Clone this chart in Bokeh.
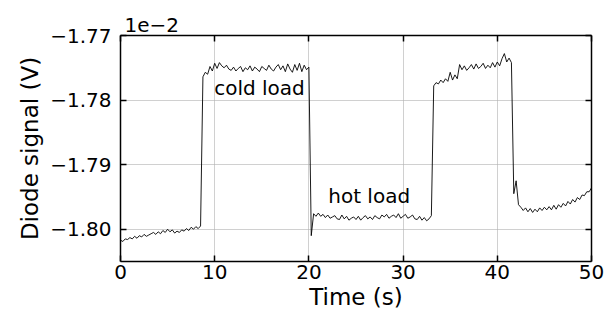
import numpy as np
from bokeh.plotting import figure
from bokeh.models import LinearAxis, FixedTicker, CustomJSTickFormatter, Range1d, Label
from bokeh.embed import file_html
from bokeh.resources import INLINE

# Diode signal in units of 1e-2 V, sampled every 0.25 s
seg_start = [-1.8017, -1.8019, -1.8015, -1.8016, -1.8013, -1.8015, -1.8011, -1.8014, -1.8010, -1.8012,
             -1.8008, -1.8011, -1.8009, -1.8007, -1.8005, -1.8008, -1.8004, -1.8007, -1.8002, -1.8005,
             -1.8000, -1.8004, -1.8001, -1.8006, -1.8003, -1.8005, -1.8001, -1.8003, -1.7999, -1.8002,
             -1.7997, -1.8000, -1.7996, -1.7999, -1.7995]
seg_cold = [-1.7764, -1.7757, -1.7760, -1.7748, -1.7755, -1.7743, -1.7751, -1.7742, -1.7747, -1.7750,
            -1.7746, -1.7752, -1.7754, -1.7749, -1.7755, -1.7751, -1.7748, -1.7756, -1.7750, -1.7753,
            -1.7747, -1.7755, -1.7749, -1.7752, -1.7756, -1.7748, -1.7751, -1.7754, -1.7746, -1.7752,
            -1.7755, -1.7749, -1.7745, -1.7753, -1.7747, -1.7756, -1.7744, -1.7752, -1.7757, -1.7745,
            -1.7754, -1.7743, -1.7756, -1.7746, -1.7753, -1.7749]
seg_hot = [-1.8010, -1.7976, -1.7980, -1.7975, -1.7980, -1.7977, -1.7982, -1.7978, -1.7983, -1.7981,
           -1.7979, -1.7984, -1.7985, -1.7978, -1.7984, -1.7980, -1.7986, -1.7983, -1.7981, -1.7985,
           -1.7980, -1.7986, -1.7982, -1.7979, -1.7984, -1.7981, -1.7985, -1.7979, -1.7982, -1.7984,
           -1.7978, -1.7981, -1.7977, -1.7983, -1.7980, -1.7978, -1.7982, -1.7976, -1.7983, -1.7980,
           -1.7977, -1.7983, -1.7981, -1.7978, -1.7984, -1.7985, -1.7980, -1.7986, -1.7982, -1.7987,
           -1.7984, -1.7979]
seg_cold2 = [-1.7778, -1.7773, -1.7775, -1.7769, -1.7773, -1.7767, -1.7771, -1.7757, -1.7769, -1.7761,
             -1.7767, -1.7745, -1.7753, -1.7747, -1.7754, -1.7750, -1.7745, -1.7752, -1.7744, -1.7751,
             -1.7748, -1.7743, -1.7751, -1.7746, -1.7750, -1.7742, -1.7749, -1.7741, -1.7747, -1.7736,
             -1.7728, -1.7741, -1.7735, -1.7742]
seg_hot2 = [-1.7945, -1.7925, -1.7962, -1.7966, -1.7971, -1.7967, -1.7973, -1.7968, -1.7974, -1.7969,
            -1.7973, -1.7967, -1.7971, -1.7966, -1.7970, -1.7965, -1.7970, -1.7963, -1.7969, -1.7962,
            -1.7966, -1.7960, -1.7964, -1.7957, -1.7961, -1.7954, -1.7958, -1.7951, -1.7954, -1.7947,
            -1.7948, -1.7942, -1.7942, -1.7936]
signal = seg_start + seg_cold + seg_hot + seg_cold2 + seg_hot2
sample_step = 0.25
time_s = [i * sample_step for i in range(len(signal))]

x_ticks = [0, 10, 20, 30, 40, 50]
y_ticks = [-1.80, -1.79, -1.78, -1.77]
annotations = [("cold load", 14.75, -1.7782), ("hot load", 26.4, -1.7948)]
offset_text = "1e\u22122"

FONT = "DejaVu Sans"

p = figure(frame_width=471, frame_height=226, output_backend="svg", toolbar_location=None,
           x_range=Range1d(0, 50), y_range=Range1d(-1.805, -1.77),
           min_border_left=120, min_border_right=13, min_border_top=35, min_border_bottom=61,
           x_axis_label="Time (s)", y_axis_label="Diode signal (V)")
p.outline_line_color = None
p.background_fill_color = "white"
p.border_fill_color = "white"

bottom = p.below[0]
left = p.left[0]

p.line(time_s, signal, line_color="black", line_width=0.9)

for txt, tx, ty in annotations:
    p.add_layout(Label(x=tx, y=ty, text=txt, text_align="center", text_baseline="middle",
                       text_font=FONT, text_font_size="20px", text_color="black"))

yfmt = CustomJSTickFormatter(code="return (tick < 0 ? '\\u2212' : '') + Math.abs(tick).toFixed(2);")
xfmt = CustomJSTickFormatter(code="return Math.round(tick).toString();")
blank = CustomJSTickFormatter(code="return '';")

bottom.ticker = FixedTicker(ticks=x_ticks)
bottom.formatter = xfmt
left.ticker = FixedTicker(ticks=y_ticks)
left.formatter = yfmt

top = LinearAxis(ticker=FixedTicker(ticks=x_ticks), formatter=blank)
right = LinearAxis(ticker=FixedTicker(ticks=y_ticks), formatter=blank)
p.add_layout(top, "above")
p.add_layout(right, "right")

for ax in [bottom, left, top, right]:
    ax.axis_line_color = "black"
    ax.axis_line_width = 1.5
    ax.major_tick_in = 6
    ax.major_tick_out = 0
    ax.major_tick_line_width = 1.5
    ax.minor_tick_line_color = None
    ax.major_label_text_font = FONT
    ax.axis_label_text_font = FONT
    ax.axis_label_text_font_style = "normal"

for ax in [bottom, left]:
    ax.major_label_text_font_size = "20px"
    ax.major_label_text_color = "black"
    ax.axis_label_text_font_size = "23px"
    ax.axis_label_text_color = "black"
bottom.major_label_standoff = 3
bottom.axis_label_standoff = 2
left.major_label_standoff = 9
left.axis_label_standoff = 4
top.major_label_standoff = 0
right.major_label_standoff = 0

p.xgrid.grid_line_color = "#b0b0b0"
p.ygrid.grid_line_color = "#b0b0b0"
p.xgrid.grid_line_alpha = 0.6
p.ygrid.grid_line_alpha = 0.6
p.xgrid.ticker = FixedTicker(ticks=x_ticks)
p.ygrid.ticker = FixedTicker(ticks=y_ticks)

p.title.text = offset_text
p.title.text_font = FONT
p.title.text_font_size = "20px"
p.title.text_font_style = "normal"
p.title.text_color = "black"
p.title.align = "left"
p.title.offset = 0
p.title.standoff = 0
p.title.padding = 4

open("out.html", "w").write(file_html(p, INLINE))
